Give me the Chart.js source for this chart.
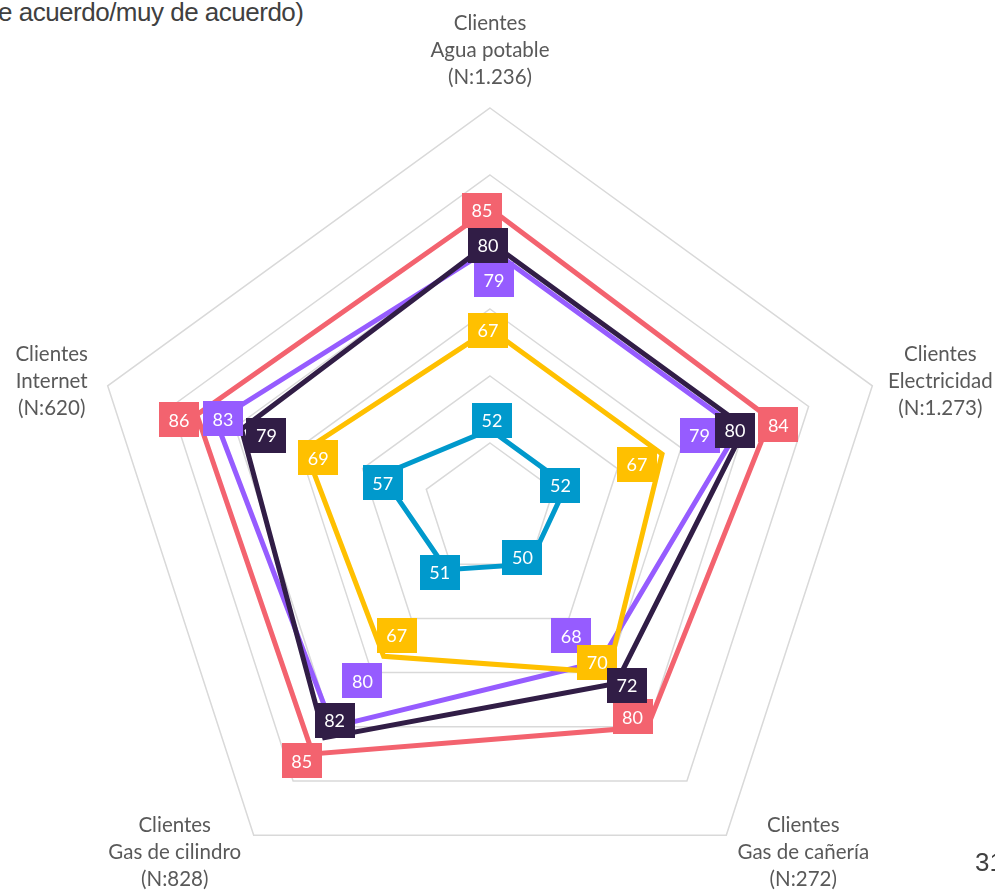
<!DOCTYPE html>
<html>
<head>
<meta charset="utf-8">
<script src="https://cdn.jsdelivr.net/npm/chart.js@4.4.1/dist/chart.umd.min.js"></script>
<style>
    html, body { margin: 0; padding: 0; background: #fff; overflow: hidden; }
    body { width: 995px; height: 890px; position: relative; }
    #wrap { position: absolute; left: 0; top: 0; width: 995px; height: 930px; }
    .title { position: absolute; left: -2px; top: -1px; font: 26px/26px "Liberation Sans", Arial, sans-serif; color: #404040; letter-spacing: -0.5px; white-space: nowrap; }
    .page { position: absolute; left: 975px; top: 849px; font: 26px/26px "Liberation Sans", Arial, sans-serif; color: #404040; white-space: nowrap; }
</style>
</head>
<body>
<div class="title">e acuerdo/muy de acuerdo)</div>
<div id="wrap"><canvas id="radar" width="995" height="930"></canvas></div>
<div class="page">31</div>
<script>
// Categories (one axis each), clockwise from the top
const categories = [
    ['Clientes', 'Agua potable', '(N:1.236)'],
    ['Clientes', 'Electricidad', '(N:1.273)'],
    ['Clientes', 'Gas de cañería', '(N:272)'],
    ['Clientes', 'Gas de cilindro', '(N:828)'],
    ['Clientes', 'Internet', '(N:620)']
];

// Series values (% de acuerdo / muy de acuerdo)
const serieRoja = [85, 84, 80, 85, 86];
const serieMorada = [79, 79, 68, 80, 83];
const serieAmarilla = [67, 67, 70, 67, 69];
const serieOscura = [80, 80, 72, 82, 79];
const serieAzul = [52, 52, 50, 51, 57];

// Radial axis ticks (grid rings)
const tickMin = 40;
const tickMax = 100;
const tickStep = 10;

// Colours
const colors = {
    roja: '#F3636F',
    morada: '#965CFF',
    amarilla: '#FFC000',
    oscura: '#311D46',
    azul: '#0099CC'
};

// Hand nudges for the value boxes (dx, dy per axis), like the moved labels in the original
const nudges = {
    roja:     [[-8, 2], [8, 6], [-15, -10], [-11, 7], [-18, 5]],
    morada:   [[4, 31], [-39, 6], [-29, -26], [30, -46], [7, -2]],
    amarilla: [[-2, 1], [-25, 10], [-11, -10], [13, -21], [13, 8]],
    oscura:   [[-2, 3], [-10, 3], [11, 2], [10, -17], [25, 6]],
    azul:     [[2, -9], [-6, 0], [-7, -7], [-7, 3], [1, 8]]
};

// Where each axis caption block sits relative to its outer vertex: [dx, first line dy]
const captionOffsets = [[0, -85], [68, -31], [77, -10], [-79, -10], [-56, -31]];
const captionLineHeight = 27;

function makeSet(key, data, order) {
    return {
        label: key,
        data: data,
        key: key,
        borderColor: colors[key],
        backgroundColor: 'transparent',
        borderWidth: 5,
        pointRadius: 0,
        pointHoverRadius: 0,
        fill: false,
        tension: 0,
        order: order
    };
}

// Value boxes drawn on top of the lines
const valueBoxes = {
    id: 'valueBoxes',
    afterDatasetsDraw(chart) {
        const ctx = chart.ctx;
        // bottom to top
        const drawOrder = ['roja', 'morada', 'amarilla', 'oscura', 'azul'];
        ctx.save();
        ctx.font = '18px Lato, "Open Sans", sans-serif';
        ctx.textAlign = 'center';
        ctx.textBaseline = 'middle';
        drawOrder.forEach(key => {
            const dsIndex = chart.data.datasets.findIndex(d => d.key === key);
            const meta = chart.getDatasetMeta(dsIndex);
            const ds = chart.data.datasets[dsIndex];
            meta.data.forEach((pt, i) => {
                const x = pt.x + nudges[key][i][0];
                const y = pt.y + nudges[key][i][1];
                ctx.fillStyle = colors[key];
                ctx.fillRect(Math.round(x - 20), Math.round(y - 17.5), 40, 35);
                ctx.fillStyle = '#ffffff';
                ctx.fillText(String(ds.data[i]), x, y + 1);
            });
        });
        ctx.restore();
    }
};

// Axis captions
const axisCaptions = {
    id: 'axisCaptions',
    afterDraw(chart) {
        const scale = chart.scales.r;
        const ctx = chart.ctx;
        ctx.save();
        ctx.font = '20.5px Lato, "Open Sans", sans-serif';
        ctx.fillStyle = '#595959';
        ctx.textAlign = 'center';
        ctx.textBaseline = 'middle';
        categories.forEach((lines, i) => {
            const p = scale.getPointPosition(i, scale.drawingArea);
            const off = captionOffsets[i];
            lines.forEach((line, k) => {
                ctx.fillText(line, p.x + off[0], p.y + off[1] + k * captionLineHeight);
            });
        });
        ctx.restore();
    }
};

const ctx = document.getElementById('radar').getContext('2d');
const radarChart = new Chart(ctx, {
    type: 'radar',
    data: {
        labels: categories.map(c => c.join(' ')),
        datasets: [
            makeSet('roja', serieRoja, 5),
            makeSet('morada', serieMorada, 4),
            makeSet('amarilla', serieAmarilla, 3),
            makeSet('oscura', serieOscura, 2),
            makeSet('azul', serieAzul, 1)
        ]
    },
    options: {
        responsive: false,
        animation: false,
        layout: {
            padding: { left: 88, right: 103, top: 108, bottom: 18 }
        },
        elements: {
            line: { borderJoinStyle: 'miter' }
        },
        scales: {
            r: {
                min: tickMin,
                max: tickMax,
                ticks: { stepSize: tickStep, display: false },
                grid: { color: '#D9D9D9', lineWidth: 1.5 },
                angleLines: { display: false },
                pointLabels: { display: false }
            }
        },
        plugins: {
            legend: { display: false },
            tooltip: { enabled: false }
        }
    },
    plugins: [valueBoxes, axisCaptions]
});
</script>
</body>
</html>
